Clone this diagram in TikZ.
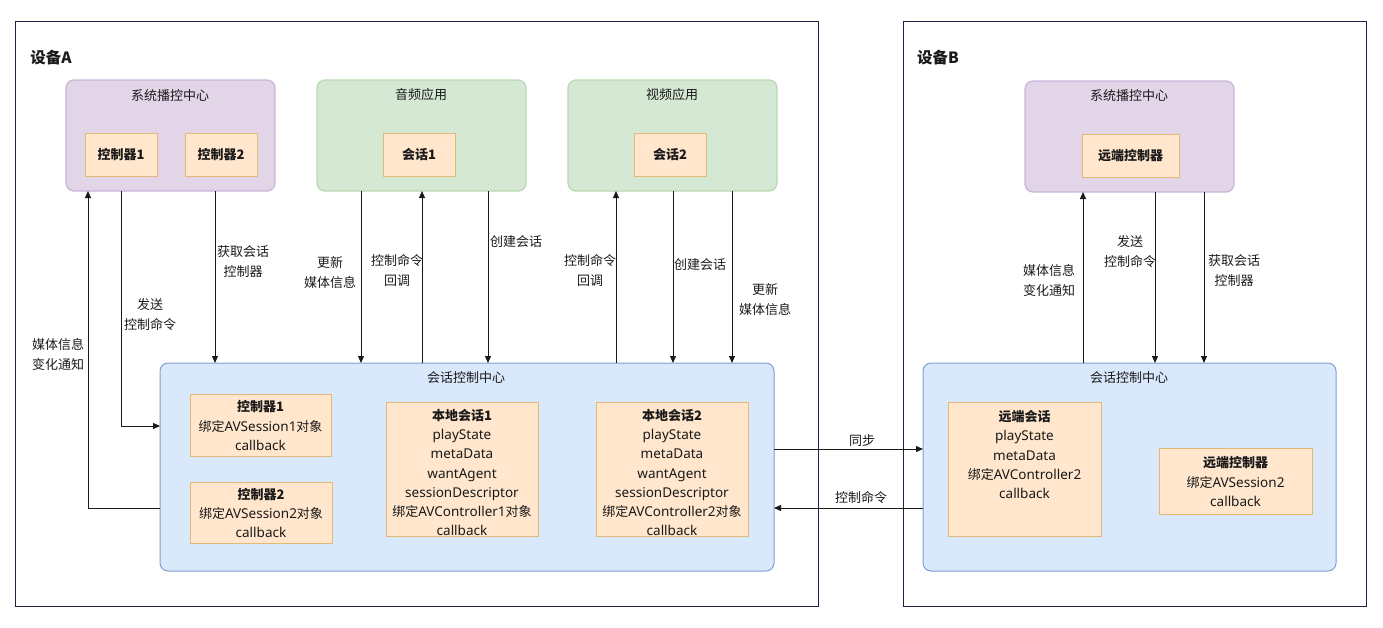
\documentclass[tikz,border=0pt]{standalone}
\usepackage{fontspec}
\setmainfont{Noto Sans CJK SC}
\newfontfamily\latfont[Scale=1.04]{Noto Sans}
\newcommand\la[1]{{\latfont #1}}
\usetikzlibrary{arrows.meta}
\definecolor{framecol}{HTML}{1F2244}
\definecolor{pfill}{HTML}{E1D5E7}
\definecolor{pdraw}{HTML}{C9B6D9}
\definecolor{gfill}{HTML}{D5E8D4}
\definecolor{gdraw}{HTML}{B9D9B2}
\definecolor{bfill}{HTML}{DAE8FC}
\definecolor{bdraw}{HTML}{7F9FCF}
\definecolor{ofill}{HTML}{FFE6CC}
\definecolor{odraw}{HTML}{E2BA76}
\definecolor{txt}{HTML}{1A1A1A}
\newcommand\myfs{\fontsize{13}{19.2}\selectfont}
\begin{document}
\begin{tikzpicture}[x=1pt,y=-1pt,
  every node/.style={text=txt, font=\myfs, inner sep=0pt, outer sep=0pt},
  devframe/.style={draw=framecol, line width=1pt},
  outerbox/.style={rectangle, rounded corners=8pt, line width=1.3pt},
  purplebox/.style={outerbox, fill=pfill, draw=pdraw},
  greenbox/.style={outerbox, fill=gfill, draw=gdraw},
  bluebox/.style={outerbox, fill=bfill, draw=bdraw, line width=1pt},
  orangebox/.style={rectangle, fill=ofill, draw=odraw, line width=1pt, align=center},
  boxtitle/.style={font=\myfs},
  lbl/.style={align=center, font=\myfs},
  arr/.style={draw=txt, line width=1pt, -{Triangle[length=7pt,width=6pt]}},
]
\useasboundingbox (0,0) rectangle (1383,627);

% device frames
\draw[devframe] (15,21) rectangle (818,606);
\draw[devframe] (903,21) rectangle (1366,606);
\node[font=\fontsize{15.5}{18}\selectfont\bfseries] (devA) at (51,58) {设备A};
\node[font=\fontsize{15.5}{18}\selectfont\bfseries] (devB) at (938,58) {设备B};

% top containers
\node[purplebox, minimum width=209pt, minimum height=111pt] (pA) at (170.5,135.5) {};
\node[boxtitle] (pAt) at (170,96) {系统播控中心};
\node[greenbox, minimum width=209pt, minimum height=111pt] (gA) at (421.5,135.5) {};
\node[boxtitle] (gAt) at (421,95) {音频应用};
\node[greenbox, minimum width=209pt, minimum height=111pt] (gV) at (672.5,135.5) {};
\node[boxtitle] (gVt) at (672,95) {视频应用};
\node[purplebox, minimum width=209pt, minimum height=111pt] (pB) at (1129.5,136.5) {};
\node[boxtitle] (pBt) at (1129,96) {系统播控中心};

\node[orangebox, minimum width=72pt, minimum height=43pt, font=\myfs\bfseries] (c1) at (121,154.5) {控制器1};
\node[orangebox, minimum width=72pt, minimum height=43pt, font=\myfs\bfseries] (c2) at (221,154.5) {控制器2};
\node[orangebox, minimum width=72pt, minimum height=43pt, font=\myfs\bfseries] (s1) at (419,154.5) {会话1};
\node[orangebox, minimum width=72pt, minimum height=43pt, font=\myfs\bfseries] (s2) at (670,154.5) {会话2};
\node[orangebox, minimum width=97pt, minimum height=43pt, font=\myfs\bfseries] (rc) at (1130.5,155.5) {远端控制器};

% session control centres
\node[bluebox, minimum width=614pt, minimum height=208pt] (bA) at (467,467) {};
\node[boxtitle] (bAt) at (466,378) {会话控制中心};
\node[bluebox, minimum width=413pt, minimum height=208pt] (bB) at (1129.5,467) {};
\node[boxtitle] (bBt) at (1129,378) {会话控制中心};

\node[orangebox, minimum width=141pt, minimum height=62pt] (ic1) at (260.5,425.5)
  {\textbf{控制器1}\\绑定\la{AVSession1}对象\\\la{callback}};
\node[orangebox, minimum width=142pt, minimum height=61pt] (ic2) at (261,513)
  {\textbf{控制器2}\\绑定\la{AVSession2}对象\\\la{callback}};
\node[orangebox, minimum width=152pt, minimum height=134pt] (ls1) at (462,469) {};
\node[lbl] (ls1t) at (462,472.5)
  {\textbf{本地会话1}\\\la{playState}\\\la{metaData}\\\la{wantAgent}\\\la{sessionDescriptor}\\绑定\la{AVController1}对象\\\la{callback}};
\node[orangebox, minimum width=152pt, minimum height=134pt] (ls2) at (672,469) {};
\node[lbl] (ls2t) at (672,472.5)
  {\textbf{本地会话2}\\\la{playState}\\\la{metaData}\\\la{wantAgent}\\\la{sessionDescriptor}\\绑定\la{AVController2}对象\\\la{callback}};
\node[orangebox, minimum width=153pt, minimum height=134pt] (rs) at (1024.5,469) {};
\node[lbl] (rst) at (1024.5,454.5)
  {\textbf{远端会话}\\\la{playState}\\\la{metaData}\\绑定\la{AVController2}\\\la{callback}};
\node[orangebox, minimum width=153pt, minimum height=66pt] (rctl) at (1235.5,481.5)
  {\textbf{远端控制器}\\绑定\la{AVSession2}\\\la{callback}};

% x / y helper coordinates
\coordinate (x88) at (88,0);
\coordinate (x121) at (121,0);
\coordinate (x215) at (215,0);
\coordinate (x361) at (361,0);
\coordinate (x422) at (422,0);
\coordinate (x488) at (488,0);
\coordinate (x616) at (616,0);
\coordinate (x673) at (673,0);
\coordinate (x732) at (732,0);
\coordinate (x1083) at (1083,0);
\coordinate (x1155) at (1155,0);
\coordinate (x1204) at (1204,0);
\coordinate (y426) at (0,426);
\coordinate (y449) at (0,449);
\coordinate (y508) at (0,508);

% device A connectors
\draw[arr] (bA.west |- y508) -| (pA.south -| x88);
\draw[arr] (pA.south -| x121) |- (bA.west |- y426);
\draw[arr] (pA.south -| x215) -- (bA.north -| x215);
\draw[arr] (gA.south -| x361) -- (bA.north -| x361);
\draw[arr] (bA.north -| x422) -- (gA.south -| x422);
\draw[arr] (gA.south -| x488) -- (bA.north -| x488);
\draw[arr] (bA.north -| x616) -- (gV.south -| x616);
\draw[arr] (gV.south -| x673) -- (bA.north -| x673);
\draw[arr] (gV.south -| x732) -- (bA.north -| x732);

% between devices
\draw[arr] (bA.east |- y449) -- (bB.west |- y449);
\draw[arr] (bB.west |- y508) -- (bA.east |- y508);

% device B connectors
\draw[arr] (bB.north -| x1083) -- (pB.south -| x1083);
\draw[arr] (pB.south -| x1155) -- (bB.north -| x1155);
\draw[arr] (pB.south -| x1204) -- (bB.north -| x1204);

% labels
\node[lbl] (l1) at (58,354.5) {媒体信息\\变化通知};
\node[lbl] (l2) at (150,314.5) {发送\\控制命令};
\node[lbl] (l3) at (243,261.5) {获取会话\\控制器};
\node[lbl] (l4) at (330,272.5) {更新\\媒体信息};
\node[lbl] (l5) at (397,270.5) {控制命令\\回调};
\node[lbl] (l6) at (516,242) {创建会话};
\node[lbl] (l7) at (590,270.5) {控制命令\\回调};
\node[lbl] (l8) at (700,265) {创建会话};
\node[lbl] (l9) at (765,299.5) {更新\\媒体信息};
\node[lbl] (l10) at (862,441) {同步};
\node[lbl] (l11) at (861,498) {控制命令};
\node[lbl] (l12) at (1049,280.5) {媒体信息\\变化通知};
\node[lbl] (l13) at (1130,251.5) {发送\\控制命令};
\node[lbl] (l14) at (1234,270.5) {获取会话\\控制器};
\end{tikzpicture}
\end{document}
